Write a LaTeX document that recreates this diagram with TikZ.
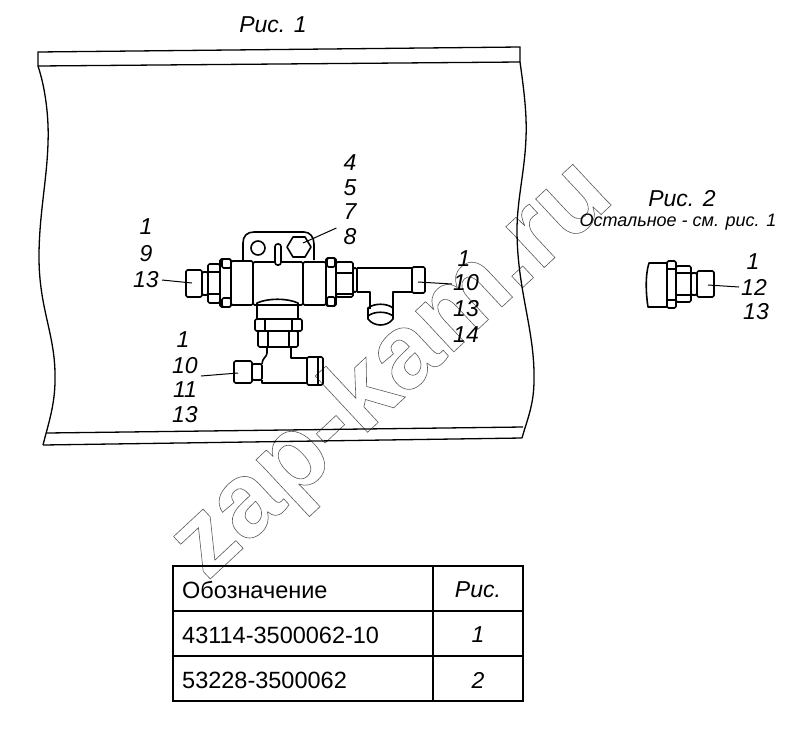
\documentclass[tikz,border=0pt]{standalone}
\usepackage{fontspec}
\setmainfont{Liberation Sans}
\tikzset{
  part/.style = {line width = 1.6pt, line join = round},
  leader/.style = {line width = 1pt},
  rim/.style = {line width = 1.3pt},
  num/.style = {inner sep = 0pt, font = \fontsize{23}{26}\selectfont\itshape},
  cell/.style = {inner sep = 0pt, font = \fontsize{23.5}{26}\selectfont},
}
\begin{document}
\begin{tikzpicture}[x = 1pt, y = -1pt]
  \useasboundingbox (0, 0) rectangle (800, 734);
  % draw watermark
  \node[rotate = 43, anchor = base west, inner sep = 0pt, text = black!65,
  font = \fontsize{106}{110}\selectfont\bfseries] (mark) at (207, 582)
  {\special{pdf:code 1 Tr 0.6 w}zap-kam.ru\special{pdf:code 0 Tr}};
  % draw panel
  \draw[rim] (38, 66) -- (38, 52) -- (520, 47) -- (520, 62) -- (38, 66);
  \draw[rim] (38, 66) .. controls (46, 90) and (49, 120) .. (48, 143)
  .. controls (47, 180) and (39, 215) .. (39, 257)
  .. controls (39, 310) and (56, 335) .. (55, 380)
  .. controls (55, 405) and (48, 425) .. (43, 445);
  \draw[rim] (520, 62) .. controls (524, 90) and (527, 115) .. (526, 137)
  .. controls (525, 170) and (517, 200) .. (517, 230)
  .. controls (517, 290) and (535, 330) .. (534, 380)
  .. controls (534, 405) and (527, 420) .. (522, 438);
  \draw[rim] (47, 433) -- (523, 427);
  \draw[rim] (43, 445) -- (522, 438);
  % draw plain parts of the valve, as left, top, right, bottom
  \foreach \a/\b/\c/\d in {186/270/202/297, 202/272/208/295, 208/264/220/303,
    220/259/231/307, 231/261/253/305, 253/262/303/305, 303/262/326/305,
    326/258/336/306, 336/262/353/297, 353/268/357/292, 412/267/425/293,
    255/319/302/331, 258/331/298/347, 234/361/252/383, 252/364/262/380,
    307/357/323/385}{
    \draw[part, rounded corners = 1.5pt] (\a, \b) rectangle (\c, \d);
  }
  % draw nut facets
  \foreach \a/\b/\c/\d in {222/259/231/268, 222/298/231/307, 327/258/335/267,
    327/297/335/306}{
    \draw[part, rounded corners = 1.5pt] (\a, \b) rectangle (\c, \d);
  }
  \foreach \a/\b/\c in {265/319/331, 292/319/331, 268/331/347, 289/331/347,
    318/358/384}{
    \draw[part] (\a, \b) -- (\a, \c);
  }
  \draw[part] (336, 273) -- (353, 273) (336, 294) -- (353, 294);
  \draw[part] (208, 272) -- (220, 272) (208, 294) -- (220, 294);
  % draw bracket with its hole, bolt and slot
  \draw[part] (243, 260) -- (243, 243) .. controls (243, 236) and (247, 232)
  .. (254, 232) -- (304, 232) .. controls (310, 232) and (314, 237) .. (314, 244)
  -- (314, 260);
  \node[draw, part, circle, minimum size = 14pt, inner sep = 0pt] (hole) at (258, 248) {};
  \draw[part] (299, 247) ++(12, 0) -- ++(-6, -10) -- ++(-12, 0) -- ++(-6, 10)
  -- ++(6, 10) -- ++(12, 0) -- cycle;
  \coordinate (bolt) at (303, 243);
  \draw[part, rounded corners = 2.5pt, fill = white] (275, 244) rectangle (281, 265);
  % draw neck below the valve
  \draw[part] (257, 319) -- (257, 303) .. controls (268, 298) and (287, 298) .. (298, 303)
  -- (298, 319);
  % draw right tee
  \draw[part] (357, 268) -- (412, 268) (412, 292) -- (393, 292) -- (393, 309);
  \draw[part] (357, 292) -- (370, 292) -- (370, 309);
  \draw[part] (368, 308) .. controls (374, 303) and (387, 303) .. (393, 308)
  -- (393, 319) .. controls (387, 327) and (374, 327) .. (368, 319) -- cycle;
  \draw[part] (368, 316) .. controls (374, 311) and (387, 311) .. (393, 316);
  % draw lower tee
  \draw[part] (267, 347) -- (267, 353) .. controls (267, 357) and (262, 358) .. (262, 364)
  (262, 380) -- (262, 383) -- (307, 383) (291, 347) -- (291, 358) -- (307, 358);
  % draw detail of fig. 2
  \draw[part] (667, 263) -- (649, 263) .. controls (645, 275) and (646, 295) .. (648, 307)
  -- (667, 307);
  \foreach \a/\b/\c/\d in {667/261/676/308, 676/266/691/302, 691/273/697/295,
    697/271/714/297}{
    \draw[part, rounded corners = 1.5pt] (\a, \b) rectangle (\c, \d);
  }
  \draw[part] (667, 269) -- (676, 269) (667, 300) -- (676, 300);
  \draw[part] (676, 273) -- (691, 273) (676, 295) -- (691, 295);
  % draw titles
  \node[num] (title1) at (273, 25) {Рис. 1};
  \node[num] (title2) at (682, 199) {Рис. 2};
  \node[inner sep = 0pt, font = \fontsize{18}{20}\selectfont\itshape] (rest) at (678, 222)
  {Остальное - см. рис. 1};
  % draw position numbers
  \foreach \n/\x/\y/\t in {a/350/163/4, b/350/188/5, c/350/212/7, d/350/237/8,
    e/146/227/1, f/146/254/9, g/146/280/13,
    h/464/259/1, i/466/283/10, j/466/309/13, k/466/335/14,
    l/183/340/1, m/185/366/10, n/185/390/11, o/185/415/13,
    p/753/262/1, q/754/287/12, r/756/312/13}{
    \node[num] (pos\n) at (\x, \y) {\t};
  }
  % draw leaders
  \coordinate (capleft) at (192, 283);
  \coordinate (capright) at (418, 282);
  \coordinate (caplow) at (238, 373);
  \coordinate (capfig) at (708, 285);
  \draw[leader] (posd.west) ++(-7, -9) -- (bolt);
  \draw[leader] (posg.east) ++(3, 0) -- (capleft);
  \draw[leader] (posi.west) ++(-1, 1) -- (capright);
  \draw[leader] (posm.east) ++(3, 10) -- (caplow);
  \draw[leader] (posq.west) ++(-2, 0) -- (capfig);
  % draw table
  \coordinate (tl) at (173, 566);
  \coordinate (br) at (523, 701);
  \draw[line width = 1.6pt] (tl) rectangle (br);
  \draw[line width = 1.6pt] (173, 611) -- (523, 611) (173, 656) -- (523, 656)
  (433, 566) -- (433, 701);
  \foreach \n/\y/\t/\f in {a/590/Обозначение/Рис., b/635/43114-3500062-10/1,
    c/680/53228-3500062/2}{
    \node[cell, anchor = west] (name\n) at (182, \y) {\t};
    \node[num] (fig\n) at (478, \y) {\f};
  }
\end{tikzpicture}
\end{document}
